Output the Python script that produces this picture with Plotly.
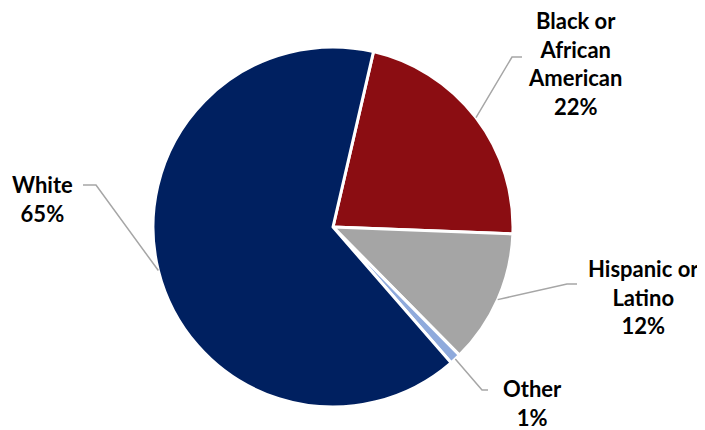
import math
import plotly.graph_objects as go

# Data
labels = ["Black or<br>African<br>American", "Hispanic or<br>Latino", "Other", "White"]
values = [22, 12, 1, 65]
colors = ["#8B0D12", "#A5A5A5", "#8FAADC", "#002060"]

W, H = 705, 430
OFF = 8  # page body margin offset
CX, CY, R = 333 - OFF, 227 - OFF, 180
ROT = 13

# label layout (page pixel positions): elbow point, end point, text center
label_layout = [
    dict(elbow=(512, 57), end=(522, 57), text=(575, 63)),
    dict(elbow=(567, 284), end=(577, 284), text=(643, 297)),
    dict(elbow=(482, 390), end=(488, 390), text=(532, 403)),
    dict(elbow=(96, 185), end=(83, 185), text=(42, 199)),
]

fig = go.Figure(go.Pie(
    labels=labels, values=values, sort=False, direction="clockwise", rotation=ROT,
    marker=dict(colors=colors, line=dict(color="white", width=3)),
    textinfo="none", hoverinfo="label+percent", showlegend=False,
    domain=dict(x=[(CX - R) / W, (CX + R) / W], y=[(H - CY - R) / H, (H - CY + R) / H]),
))

def px(p):
    return p[0] / W, 1 - p[1] / H

def sh(p):
    return (p[0] - OFF, p[1] - OFF)

total = sum(values)
ang = ROT
for lab, v, lay in zip(labels, values, label_layout):
    mid = ang + v / total * 360 / 2
    ang += v / total * 360
    rad = math.radians(mid)
    start = (CX + R * math.sin(rad), CY - R * math.cos(rad))
    pts = [px(start), px(sh(lay["elbow"])), px(sh(lay["end"]))]
    path = "M {} {} L {} {} L {} {}".format(*[c for p in pts for c in p])
    fig.add_shape(type="path", path=path, xref="paper", yref="paper",
                  line=dict(color="#A6A6A6", width=1.5))
    tx, ty = px(sh(lay["text"]))
    fig.add_annotation(x=tx, y=ty, xref="paper", yref="paper", showarrow=False,
                       text="<b>{}<br>{}%</b>".format(lab, round(v / total * 100)),
                       font=dict(family="Lato", size=22, color="black"),
                       align="center", xanchor="center", yanchor="middle")

fig.update_layout(width=W, height=H, margin=dict(l=0, r=0, t=0, b=0),
                  paper_bgcolor="white", plot_bgcolor="white")
fig.write_html("out.html")
